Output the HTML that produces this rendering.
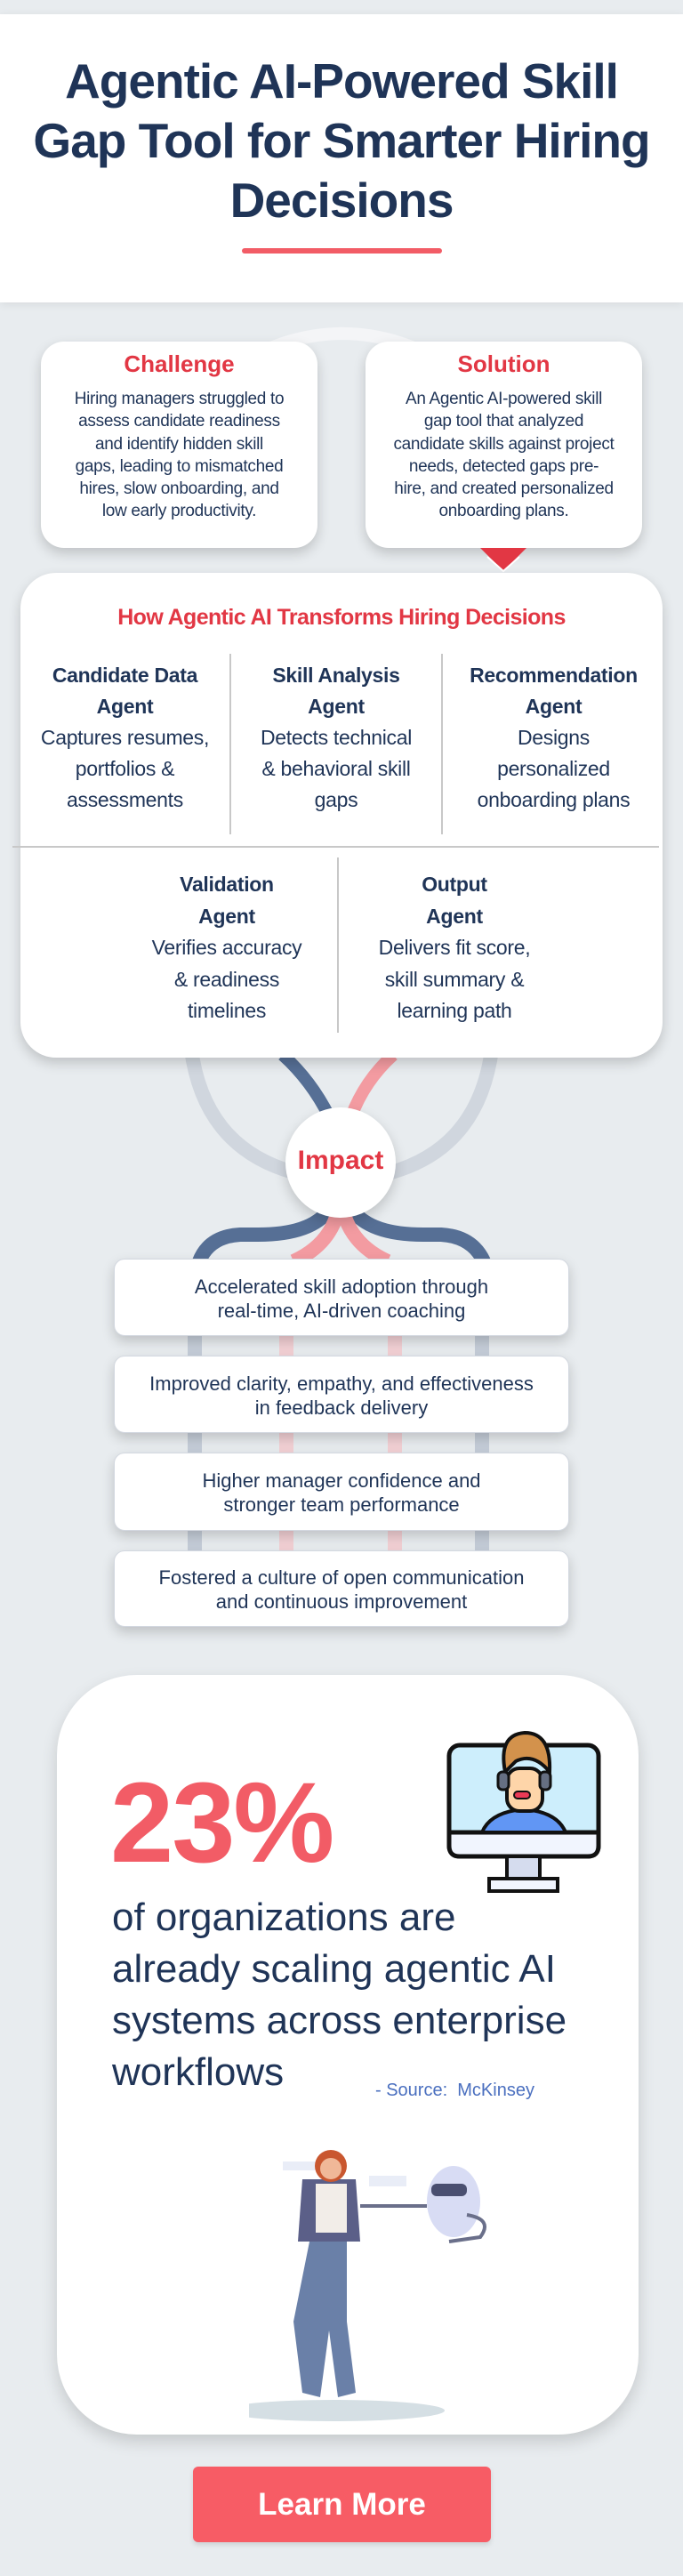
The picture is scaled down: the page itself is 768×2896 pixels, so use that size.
<!DOCTYPE html>
<html><head><meta charset="utf-8">
<style>
*{margin:0;padding:0;box-sizing:border-box}
body{width:768px;height:2896px;background:#e8ecef;position:relative;overflow:hidden;font-family:"Liberation Sans",sans-serif;color:#1f3457}
.abs{position:absolute}
.card{position:absolute;background:#fff;box-shadow:0 6px 14px rgba(0,0,0,.18)}
.c{text-align:center;white-space:nowrap}
.red{color:#e23744;font-weight:bold}
</style></head><body>
<svg class="abs" style="left:0;top:0" width="768" height="2896">
 <path d="M250 420 Q385 330 520 420" fill="none" stroke="#f4f5f7" stroke-width="14"/>
 <path d="M215 1180 Q230 1290 330 1318" fill="none" stroke="#d0d6de" stroke-width="16"/>
 <path d="M553 1180 Q538 1290 440 1318" fill="none" stroke="#d0d6de" stroke-width="16"/>
 <path d="M318 1186 Q350 1215 370 1255" fill="none" stroke="#566f95" stroke-width="14"/>
 <path d="M442 1186 Q410 1215 395 1255" fill="none" stroke="#f39ba1" stroke-width="14"/>
 <path d="M370 1360 Q350 1388 290 1388 L270 1388 Q235 1390 224 1418" fill="none" stroke="#566f95" stroke-width="16"/>
 <path d="M396 1360 Q416 1388 476 1388 L496 1388 Q531 1390 544 1418" fill="none" stroke="#566f95" stroke-width="16"/>
 <path d="M380 1362 Q370 1400 330 1418" fill="none" stroke="#f39ba1" stroke-width="16"/>
 <path d="M386 1362 Q396 1400 436 1418" fill="none" stroke="#f39ba1" stroke-width="16"/>
 <g fill="#c5cdd8"><rect x="211" y="1500" width="16" height="245"/><rect x="534" y="1500" width="16" height="245"/></g>
 <g fill="#f2d0d4"><rect x="314" y="1500" width="16" height="245"/><rect x="436" y="1500" width="16" height="245"/></g>
</svg>

<div class="card" style="left:0;top:16px;width:768px;height:324px;box-shadow:0 2px 10px rgba(0,0,0,.08)"></div>
<div class="abs c" style="left:0;top:58px;width:768px;font-size:55px;line-height:67px;font-weight:bold;letter-spacing:-1px;color:#1f3457">Agentic AI-Powered Skill<br>Gap Tool for Smarter Hiring<br>Decisions</div>
<div class="abs" style="left:272px;top:279px;width:225px;height:6px;border-radius:3px;background:#f25c66"></div>

<div class="card" style="left:46px;top:384px;width:311px;height:232px;border-radius:26px"></div>
<div class="card" style="left:411px;top:384px;width:311px;height:232px;border-radius:26px"></div>
<div class="abs c red" style="left:46px;top:394px;width:311px;font-size:26px">Challenge</div>
<div class="abs c red" style="left:411px;top:394px;width:311px;font-size:26px">Solution</div>
<div class="abs c" style="left:46px;top:436px;width:311px;font-size:19px;line-height:25.3px;letter-spacing:-0.3px">Hiring managers struggled to<br>assess candidate readiness<br>and identify hidden skill<br>gaps, leading to mismatched<br>hires, slow onboarding, and<br>low early productivity.</div>
<div class="abs c" style="left:411px;top:436px;width:311px;font-size:19px;line-height:25.3px;letter-spacing:-0.3px">An Agentic AI-powered skill<br>gap tool that analyzed<br>candidate skills against project<br>needs, detected gaps pre-<br>hire, and created personalized<br>onboarding plans.</div>
<svg class="abs" style="left:538px;top:614px" width="56" height="30"><path d="M2 2 L54 2 L28 28 Z" fill="#e23744"/><path d="M10 12 L28 28 L46 12" fill="none" stroke="#fff" stroke-width="2"/></svg>

<div class="card" style="left:23px;top:644px;width:722px;height:545px;border-radius:40px"></div>
<div class="abs c red" style="left:23px;top:680px;width:722px;font-size:25px;letter-spacing:-0.6px">How Agentic AI Transforms Hiring Decisions</div>
<div class="abs" style="left:258px;top:735px;width:2px;height:203px;background:#c8c8c8"></div>
<div class="abs" style="left:496px;top:735px;width:2px;height:203px;background:#c8c8c8"></div>
<div class="abs" style="left:14px;top:951px;width:727px;height:2px;background:#c8c8c8"></div>
<div class="abs" style="left:379px;top:964px;width:2px;height:197px;background:#c8c8c8"></div>
<div class="abs c" style="left:28px;top:742px;width:225px;font-size:23px;line-height:35px;letter-spacing:-0.3px"><b>Candidate Data<br>Agent</b><br>Captures resumes,<br>portfolios &amp;<br>assessments</div>
<div class="abs c" style="left:264px;top:742px;width:228px;font-size:23px;line-height:35px;letter-spacing:-0.3px"><b>Skill Analysis<br>Agent</b><br>Detects technical<br>&amp; behavioral skill<br>gaps</div>
<div class="abs c" style="left:500px;top:742px;width:245px;font-size:23px;line-height:35px;letter-spacing:-0.3px"><b>Recommendation<br>Agent</b><br>Designs<br>personalized<br>onboarding plans</div>
<div class="abs c" style="left:140px;top:977px;width:230px;font-size:23px;line-height:35.5px;letter-spacing:-0.3px"><b>Validation<br>Agent</b><br>Verifies accuracy<br>&amp; readiness<br>timelines</div>
<div class="abs c" style="left:400px;top:977px;width:222px;font-size:23px;line-height:35.5px;letter-spacing:-0.3px"><b>Output<br>Agent</b><br>Delivers fit score,<br>skill summary &amp;<br>learning path</div>

<div class="card" style="left:321px;top:1245px;width:124px;height:124px;border-radius:50%"></div>
<div class="abs c red" style="left:321px;top:1288px;width:124px;font-size:30px">Impact</div>

<div class="card c" style="left:128px;top:1415px;width:512px;height:87px;border-radius:12px;border:1px solid #d3d8e0;font-size:22px;line-height:27px;padding-top:17px">Accelerated skill adoption through<br>real-time, AI-driven coaching</div>
<div class="card c" style="left:128px;top:1524px;width:512px;height:87px;border-radius:12px;border:1px solid #d3d8e0;font-size:22px;line-height:27px;padding-top:17px">Improved clarity, empathy, and effectiveness<br>in feedback delivery</div>
<div class="card c" style="left:128px;top:1633px;width:512px;height:88px;border-radius:12px;border:1px solid #d3d8e0;font-size:22px;line-height:27px;padding-top:17px">Higher manager confidence and<br>stronger team performance</div>
<div class="card c" style="left:128px;top:1743px;width:512px;height:86px;border-radius:12px;border:1px solid #d3d8e0;font-size:22px;line-height:27px;padding-top:16px">Fostered a culture of open communication<br>and continuous improvement</div>

<div class="card" style="left:64px;top:1883px;width:654px;height:854px;border-radius:90px;box-shadow:0 8px 18px rgba(0,0,0,.15)"></div>
<div class="abs" style="left:124px;top:1980px;font-size:128px;font-weight:bold;color:#f25c66;line-height:140px;letter-spacing:-2px">23%</div>
<div class="abs" style="left:126px;top:2127px;width:580px;font-size:44px;line-height:58px;color:#1f3457;white-space:nowrap">of organizations are<br>already scaling agentic AI<br>systems across enterprise<br>workflows</div>
<div class="abs" style="left:422px;top:2339px;font-size:20px;color:#4a6fbf;white-space:pre">- Source:  McKinsey</div>

<svg class="abs" style="left:480px;top:1930px" width="220" height="210">
 <rect x="25" y="32" width="168" height="125" rx="12" fill="#cdeefc" stroke="#111" stroke-width="5"/>
 <path d="M25 130 L193 130 L193 145 Q193 157 181 157 L37 157 Q25 157 25 145Z" fill="#f1f5fe" stroke="#111" stroke-width="5"/>
 <path d="M62 130 Q70 110 100 105 L118 105 Q148 110 156 130Z" fill="#6196f4" stroke="#111" stroke-width="4"/>
 <rect x="90" y="58" width="40" height="48" rx="14" fill="#fed5a9" stroke="#111" stroke-width="4"/>
 <path d="M88 62 Q80 20 110 18 Q140 18 138 62 Q120 40 100 50Z" fill="#d3924c" stroke="#111" stroke-width="4"/>
 <rect x="80" y="62" width="12" height="20" rx="5" fill="#666f82" stroke="#111" stroke-width="3"/>
 <rect x="127" y="62" width="12" height="20" rx="5" fill="#666f82" stroke="#111" stroke-width="3"/>
 <rect x="98" y="84" width="18" height="8" rx="4" fill="#ea3a56" stroke="#111" stroke-width="2"/>
 <rect x="90" y="157" width="37" height="25" fill="#d5dcee" stroke="#111" stroke-width="4"/>
 <rect x="70" y="182" width="77" height="14" fill="#f1f5fe" stroke="#111" stroke-width="4"/>
</svg>

<svg class="abs" style="left:280px;top:2390px" width="300" height="340">
 <ellipse cx="95" cy="320" rx="125" ry="12" fill="#d5dfe4"/>
 <rect x="38" y="40" width="44" height="10" fill="#e9edf7"/>
 <rect x="135" y="56" width="42" height="12" fill="#e9edf7"/>
 <path d="M70 120 L50 220 L60 300 L80 305 L90 230 L100 305 L120 300 L110 220 L110 120Z" fill="#6a80a8"/>
 <path d="M60 60 L120 60 L125 130 L55 130Z" fill="#5b5f88"/>
 <rect x="75" y="65" width="35" height="55" fill="#f2ede8"/>
 <circle cx="92" cy="45" r="18" fill="#c9572f"/>
 <circle cx="92" cy="48" r="12" fill="#f0b898"/>
 <ellipse cx="230" cy="85" rx="30" ry="40" fill="#d8dcf4"/>
 <rect x="205" y="65" width="40" height="14" rx="6" fill="#4a4f70"/>
 <path d="M125 90 L200 90" stroke="#6a6f8a" stroke-width="4"/>
 <path d="M245 100 Q275 105 260 125 L225 130" fill="none" stroke="#6a6f8a" stroke-width="4"/>
</svg>

<div class="abs c" style="left:217px;top:2773px;width:335px;height:85px;background:#f75c65;border-radius:6px;color:#fff;font-weight:bold;font-size:35px;line-height:85px;box-shadow:0 3px 6px rgba(0,0,0,.12)">Learn More</div>
</body></html>
